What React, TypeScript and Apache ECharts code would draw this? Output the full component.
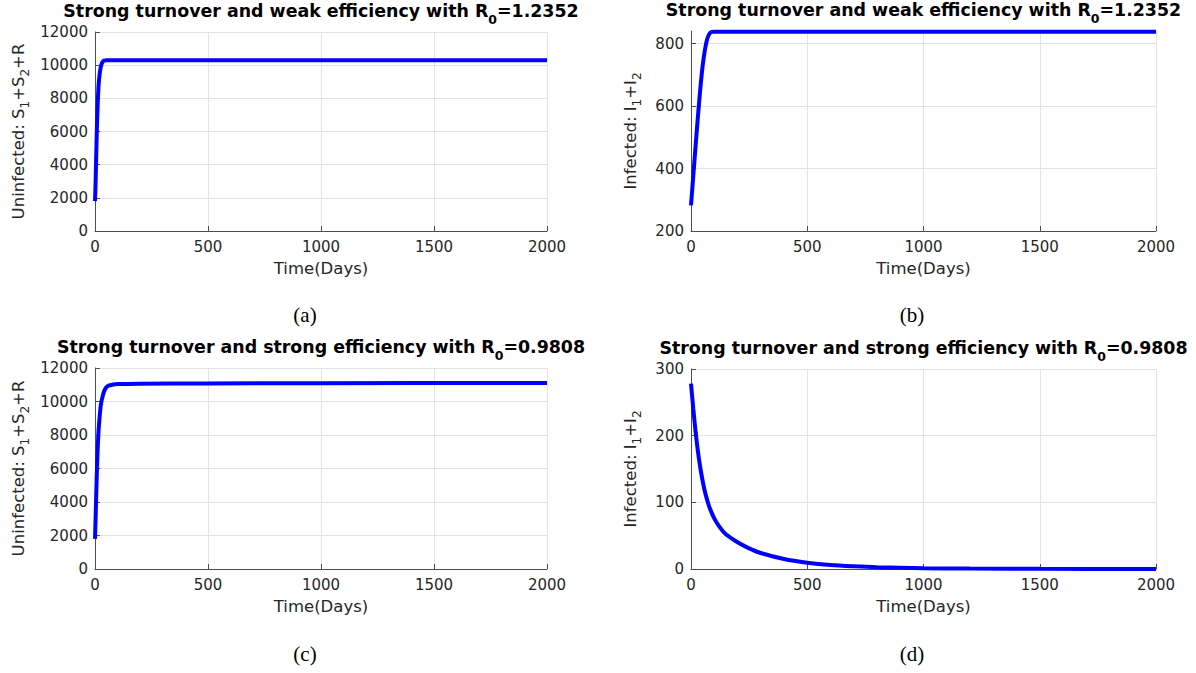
import React, { useEffect, useRef } from "react";
import * as echarts from "echarts";

// Time grid shared by all four panels (days)
const timeTicks = [0, 500, 1000, 1500, 2000];

// (a) strong turnover, weak efficiency: uninfected S1+S2+R
const timeA = [0, 2, 4, 6, 8, 10, 13, 16, 20, 25, 30, 35, 40, 50, 70, 100, 300, 1000, 2000];
const uninfectedA = [1800, 2600, 3700, 4900, 6000, 6900, 8000, 8800, 9400, 9850, 10100, 10220, 10270, 10290, 10290, 10290, 10290, 10290, 10290];

// (b) strong turnover, weak efficiency: infected I1+I2
const timeB = [0, 10, 20, 30, 40, 50, 60, 70, 80, 90, 100, 150, 500, 1000, 2000];
const infectedB = [282, 378, 474, 568, 655, 728, 780, 815, 832, 837, 838, 838, 838, 838, 838];

// (c) strong turnover, strong efficiency: uninfected S1+S2+R
const timeC = [0, 2, 4, 6, 8, 10, 13, 16, 20, 25, 30, 40, 50, 60, 80, 100, 200, 500, 1000, 2000];
const uninfectedC = [1800, 2700, 3700, 4700, 5700, 6500, 7500, 8300, 9000, 9700, 10100, 10600, 10850, 10950, 11010, 11040, 11060, 11080, 11095, 11100];

// (d) strong turnover, strong efficiency: infected I1+I2
const timeD = [0, 10, 20, 30, 40, 50, 60, 70, 80, 100, 125, 150, 200, 250, 300, 400, 500, 600, 700, 800, 1000, 1200, 1500, 2000];
const infectedD = [278, 240, 205, 176, 152, 132, 116, 103, 92, 76, 62, 52, 40, 31, 24, 15, 9.5, 6, 4, 2.6, 1.3, 0.6, 0.2, 0.05];

const yTicksUninfected = [0, 2000, 4000, 6000, 8000, 10000, 12000];
const yTicksInfectedB = [200, 400, 600, 800];
const yTicksInfectedD = [0, 100, 200, 300];

const titles = [
  "Strong turnover and weak efficiency with R{s|0}=1.2352",
  "Strong turnover and weak efficiency with R{s|0}=1.2352",
  "Strong turnover and strong efficiency with R{s|0}=0.9808",
  "Strong turnover and strong efficiency with R{s|0}=0.9808",
];
const panelTags = ["(a)", "(b)", "(c)", "(d)"];
const yNames = [
  "Uninfected: S{s|1}+S{s|2}+R",
  "Infected: I{s|1}+I{s|2}",
  "Uninfected: S{s|1}+S{s|2}+R",
  "Infected: I{s|1}+I{s|2}",
];
const xName = "Time(Days)";

const FONT = "DejaVu Sans";
const AXIS_COLOR = "#4d4d4d";
const LABEL_COLOR = "#262626";
const GRID_COLOR = "#e3e3e3";

const grids = [
  { left: 95, top: 32, width: 452, height: 199 },
  { left: 691, top: 31, width: 465, height: 200 },
  { left: 95, top: 368, width: 452, height: 201 },
  { left: 691, top: 369, width: 465, height: 200 },
];

const pairs = (xs: number[], ys: number[]) => xs.map((x, i) => [x, ys[i]]);
const plain = (v: number) => String(v);

export default function App() {
  const ref = useRef<HTMLDivElement>(null);

  useEffect(() => {
    document.body.style.margin = "0";
    if (!ref.current) return;
    const chart = echarts.init(ref.current, null, { renderer: "svg" });

    const yRanges = [
      { min: 0, max: 12000, interval: 2000, ticks: yTicksUninfected },
      { min: 200, max: 840, interval: 200, ticks: yTicksInfectedB },
      { min: 0, max: 12000, interval: 2000, ticks: yTicksUninfected },
      { min: 0, max: 300, interval: 100, ticks: yTicksInfectedD },
    ];
    const nameGaps = [64, 48, 64, 48];

    const xAxes = grids.map((_, i) => ({
      type: "value",
      gridIndex: i,
      min: 0,
      max: 2000,
      interval: 500,
      name: xName,
      nameLocation: "middle",
      nameGap: 29,
      nameTextStyle: { fontFamily: FONT, fontSize: 16.5, color: LABEL_COLOR },
      axisLine: { show: true, onZero: false, lineStyle: { color: AXIS_COLOR, width: 1 } },
      axisTick: { show: true, inside: true, length: 5, lineStyle: { color: AXIS_COLOR } },
      axisLabel: {
        fontFamily: FONT,
        fontSize: 15,
        color: LABEL_COLOR,
        margin: 8,
        formatter: plain,
        customValues: timeTicks,
      },
      splitLine: { show: true, lineStyle: { color: GRID_COLOR, width: 1 } },
    }));

    const yAxes = grids.map((_, i) => ({
      type: "value",
      gridIndex: i,
      min: yRanges[i].min,
      max: yRanges[i].max,
      interval: yRanges[i].interval,
      name: yNames[i],
      nameLocation: "middle",
      nameRotate: 90,
      nameGap: nameGaps[i],
      nameTextStyle: {
        fontFamily: FONT,
        fontSize: 16.5,
        color: LABEL_COLOR,
        rich: {
          s: { fontFamily: FONT, fontSize: 12, color: LABEL_COLOR, padding: [14, 0, 0, 0] },
        },
      },
      axisLine: { show: true, onZero: false, lineStyle: { color: AXIS_COLOR, width: 1 } },
      axisTick: {
        show: true,
        inside: true,
        length: 5,
        lineStyle: { color: AXIS_COLOR },
        customValues: yRanges[i].ticks,
      },
      axisLabel: {
        fontFamily: FONT,
        fontSize: 15,
        color: LABEL_COLOR,
        margin: 7,
        formatter: plain,
        customValues: yRanges[i].ticks,
      },
      splitLine: { show: true, lineStyle: { color: GRID_COLOR, width: 1 } },
    }));

    const seriesData = [
      pairs(timeA, uninfectedA),
      pairs(timeB, infectedB),
      pairs(timeC, uninfectedC),
      pairs(timeD, infectedD),
    ];

    const series = seriesData.map((d, i) => ({
      type: "line",
      xAxisIndex: i,
      yAxisIndex: i,
      data: d,
      smooth: 0.3,
      showSymbol: false,
      symbol: "none",
      lineStyle: { color: "#0000ff", width: 4 },
      z: 3,
    }));

    const titleGraphics = grids.map((g, i) => ({
      type: "text",
      x: g.left + g.width / 2,
      y: g.top - 21,
      style: {
        text: titles[i],
        align: "center",
        verticalAlign: "middle",
        fontFamily: FONT,
        fontWeight: "bold",
        fontSize: 17.4,
        fill: "#000000",
        rich: {
          s: {
            fontFamily: FONT,
            fontWeight: "bold",
            fontSize: 12.5,
            fill: "#000000",
            padding: [16, 0, 0, 0],
          },
        },
      },
    }));

    const tagPositions = [
      [305, 315],
      [912, 315],
      [305, 654],
      [912, 654],
    ];
    const tagGraphics = panelTags.map((t, i) => ({
      type: "text",
      x: tagPositions[i][0],
      y: tagPositions[i][1],
      style: {
        text: t,
        align: "center",
        verticalAlign: "middle",
        fontFamily: "Liberation Serif",
        fontSize: 21,
        fill: "#000000",
      },
    }));

    chart.setOption({
      animation: false,
      backgroundColor: "#ffffff",
      grid: grids.map((g) => ({ ...g, containLabel: false })),
      xAxis: xAxes,
      yAxis: yAxes,
      series,
      graphic: [...titleGraphics, ...tagGraphics],
    });

    return () => chart.dispose();
  }, []);

  return <div ref={ref} style={{ width: 1196, height: 673 }} />;
}
